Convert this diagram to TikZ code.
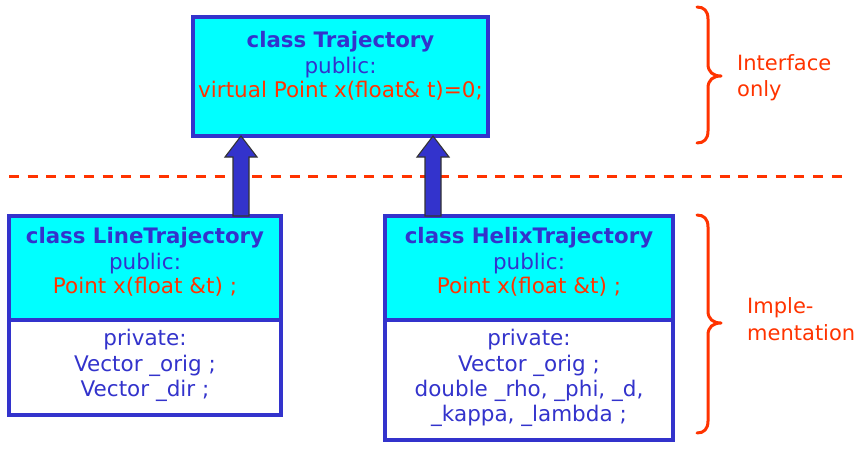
\documentclass[tikz,border=0pt]{standalone}
\usepackage{fontspec}
\setmainfont{DejaVu Sans}
\usetikzlibrary{calc}
\definecolor{ublue}{HTML}{3333CC}
\definecolor{ured}{HTML}{FF3300}
\definecolor{ucyan}{HTML}{00FFFF}
\begin{document}
\begin{tikzpicture}[x=1pt,y=-1pt,
  box/.style={draw=ublue,line width=3.2pt,inner sep=0pt,outer sep=0pt,anchor=north west},
  hdr/.style={box,fill=ucyan},
  prv/.style={box,fill=white},
  txt/.style={anchor=base,inner sep=0pt,font=\fontsize{21.5}{25}\selectfont},
  bl/.style={txt,text=ublue},
  bb/.style={txt,text=ublue,font=\fontsize{21.3}{25}\selectfont\bfseries},
  rd/.style={txt,text=ured},
  lab/.style={anchor=base west,inner sep=0pt,text=ured,font=\fontsize{21}{25}\selectfont},
  brace/.style={draw=ured,line width=3pt,line cap=round,line join=round},
  inh/.style={fill=ublue,draw=black!80,line width=1.1pt,line join=miter}
]
\useasboundingbox (0,0) rectangle (858,450);

% dashed separator
\coordinate (dl) at (9,176);
\coordinate (dr) at (843,176);
\draw[ured,line width=3pt,dash pattern=on 10pt off 8.7pt] (dl) -- (dr);

% boxes
\node[hdr,minimum width=295,minimum height=119] (traj) at (193,17) {};
\node[hdr,minimum width=272,minimum height=104] (lineh) at (9,216) {};
\node[prv,minimum width=272,minimum height=95] (linep) at (9,320) {};
\node[hdr,minimum width=288,minimum height=104] (helixh) at (385,216) {};
\node[prv,minimum width=288,minimum height=120] (helixp) at (385,320) {};

% texts: Trajectory
\node[bb] (t1) at (340.5,47) {class Trajectory};
\node[bl] (t2) at (340.5,73) {public:};
\node[rd] (t3) at (340.5,97) {virtual Point x(float\& t)=0;};

% LineTrajectory
\node[bb] (l1) at (145,243) {class LineTrajectory};
\node[bl] (l2) at (145,269) {public:};
\node[rd] (l3) at (145,293) {Point x(float \&t) ;};
\node[bl] (l4) at (145,345) {private:};
\node[bl] (l5) at (145,371.5) {Vector \_orig ;};
\node[bl] (l6) at (145,396.5) {Vector \_dir ;};

% HelixTrajectory
\node[bb] (h1) at (529,243) {class HelixTrajectory};
\node[bl] (h2) at (529,269) {public:};
\node[rd] (h3) at (529,293) {Point x(float \&t) ;};
\node[bl] (h4) at (529,345) {private:};
\node[bl] (h5) at (529,371.5) {Vector \_orig ;};
\node[bl] (h6) at (529,396.5) {double \_rho, \_phi, \_d,};
\node[bl] (h7) at (529,421.5) {\_kappa, \_lambda ;};

% inheritance arrows
\path (lineh.north -| 241,0) coordinate (a1b);
\path (traj.south -| 241,0) coordinate (a1t);
\path (helixh.north -| 433,0) coordinate (a2b);
\path (traj.south -| 433,0) coordinate (a2t);
\foreach \b/\t in {a1b/a1t,a2b/a2t}{
  \draw[inh] ($(\b)+(-8,0)$) -- ($(\t)+(-8,21)$) -- ($(\t)+(-16,21)$) -- (\t)
     -- ($(\t)+(16,21)$) -- ($(\t)+(8,21)$) -- ($(\b)+(8,0)$) -- cycle;
}

% braces
\draw[brace] (697,7) .. controls (704,7) and (708,11) .. (708,19) -- (708,64)
  .. controls (708,72) and (713,76) .. (721,76)
  .. controls (713,76) and (708,80) .. (708,88) -- (708,131)
  .. controls (708,139) and (704,143) .. (697,143);
\draw[brace] (697,215) .. controls (704,215) and (708,219) .. (708,227) -- (708,311)
  .. controls (708,319) and (713,323) .. (721,323)
  .. controls (713,323) and (708,327) .. (708,335) -- (708,421)
  .. controls (708,429) and (704,433) .. (697,433);

\node[lab] (i1) at (737,70) {Interface};
\node[lab] (i2) at (737,96) {only};
\node[lab] (m1) at (747,313) {Imple-};
\node[lab] (m2) at (747,340) {mentation};
\end{tikzpicture}
\end{document}
